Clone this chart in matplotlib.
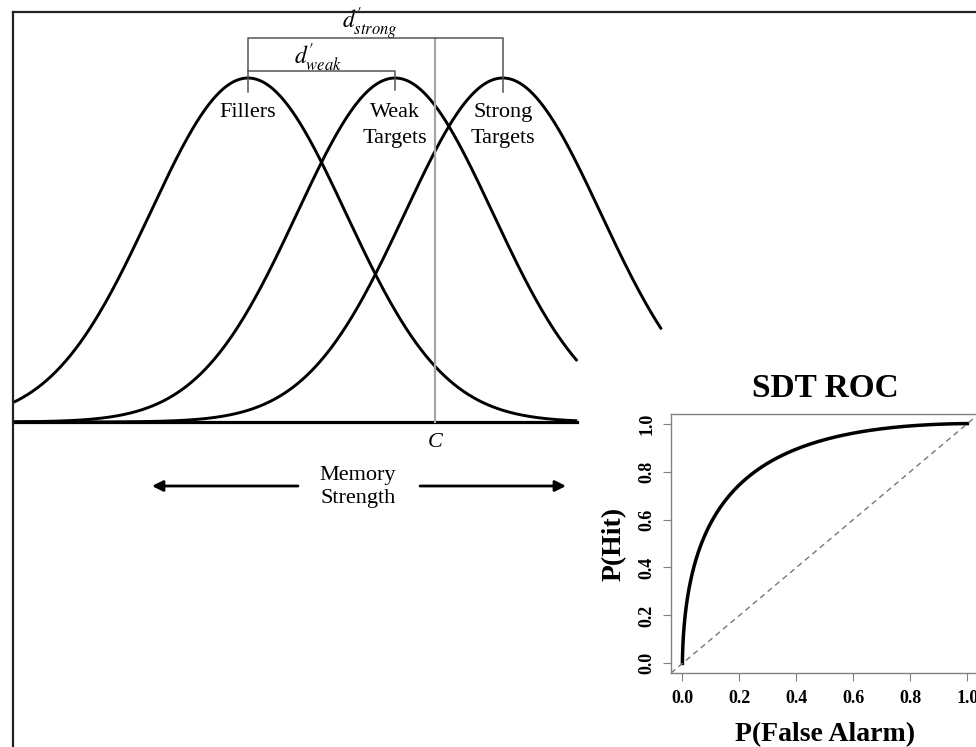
import math
import numpy as np
import matplotlib
matplotlib.use('Agg')
import matplotlib.pyplot as plt
from matplotlib.lines import Line2D

# distributions (in sd units)
dist_names = ['Fillers', 'Weak\nTargets', 'Strong\nTargets']
dist_means = [0.0, 1.5, 2.6]
dist_sd = 1.0
curve_start = -2.39
curve_ends = [3.36, 3.36, 4.22]
criterion = 1.91
# ROC
roc_dprime = 1.5
roc_ticks = [0.0, 0.2, 0.4, 0.6, 0.8, 1.0]

plt.rcParams['font.family'] = ['Liberation Serif', 'DejaVu Serif']
plt.rcParams['mathtext.fontset'] = 'stix'

W, H = 976, 747
fig = plt.figure(figsize=(W / 100, H / 100), dpi=100)

# pixel layout of the left panel
MEAN0_PX = 248
SD_PX = 98
BASE_PX = 422
PEAK_PX = 78
peak = 1 / math.sqrt(2 * math.pi)
yscale = (BASE_PX - PEAK_PX) / peak

def zx(px):
    return (px - MEAN0_PX) / SD_PX

def zy(py):
    return (BASE_PX - py) / yscale

def pdf(x, m):
    return np.exp(-0.5 * ((x - m) / dist_sd) ** 2) / (dist_sd * math.sqrt(2 * math.pi))

ax = fig.add_axes([0, 0, 1, 1])
ax.set_xlim(zx(0), zx(W))
ax.set_ylim(zy(H), zy(0))
ax.axis('off')

for name, m, end in zip(dist_names, dist_means, curve_ends):
    xs = np.linspace(curve_start, end, 600)
    ax.plot(xs, pdf(xs, m), color='black', lw=2.1, solid_capstyle='butt')
    ax.text(m, zy(112), name.split('\n')[0], ha='center', va='center', fontsize=16)
    if '\n' in name:
        ax.text(m, zy(139), name.split('\n')[1], ha='center', va='center', fontsize=16)

# baseline
ax.plot([curve_start, curve_ends[0]], [0, 0], color='black', lw=2.3)

# criterion
ax.plot([criterion, criterion], [0, zy(38)], color='#a6a6a6', lw=1.6)
ax.text(criterion, zy(442), 'C', style='italic', ha='center', va='center', fontsize=16)

# d' brackets
bc = '#555555'
ax.plot([dist_means[0], dist_means[0], dist_means[2], dist_means[2]],
        [zy(92), zy(38), zy(38), zy(92)], color=bc, lw=1.1)
ax.plot([dist_means[0], dist_means[1], dist_means[1]],
        [zy(71), zy(71), zy(90)], color=bc, lw=1.1)
ax.text(zx(370), zy(24), r"$d^{\prime}_{strong}$", ha='center', va='center', fontsize=17)
ax.text(zx(318), zy(58), r"$d^{\prime}_{weak}$", ha='center', va='center', fontsize=17)

# memory strength arrows
ax.text(zx(358), zy(487), 'Memory\nStrength', ha='center', va='center',
        fontsize=16, linespacing=1.25)
ax.annotate('', xy=(zx(152), zy(486)), xytext=(zx(298), zy(486)),
            arrowprops=dict(arrowstyle='-|>', color='black', lw=2, mutation_scale=16,
                            shrinkA=0, shrinkB=0))
ax.annotate('', xy=(zx(566), zy(486)), xytext=(zx(420), zy(486)),
            arrowprops=dict(arrowstyle='-|>', color='black', lw=2, mutation_scale=16,
                            shrinkA=0, shrinkB=0))

# ROC panel
ax2 = fig.add_axes([671 / W, 1 - 673 / H, 307.8 / W, 259 / H])
ax2.set_xlim(-0.04, 1.04)
ax2.set_ylim(-0.04, 1.04)
crit = np.linspace(-6, 8, 800)
phi = np.vectorize(lambda v: 0.5 * (1 + math.erf(v / math.sqrt(2))))
fa = 1 - phi(crit)
hit = 1 - phi(crit - roc_dprime)
ax2.plot(fa, hit, color='black', lw=2.5)
ax2.plot([-0.04, 1.04], [-0.04, 1.04], color='#777777', lw=1, ls=(0, (4, 3)))
for s in ax2.spines.values():
    s.set_color('#808080')
    s.set_linewidth(1.0)
ax2.set_xticks(roc_ticks)
ax2.set_yticks(roc_ticks)
ax2.set_xticklabels(['%.1f' % t for t in roc_ticks], fontweight='bold', fontsize=13)
ax2.set_yticklabels(['%.1f' % t for t in roc_ticks], fontweight='bold', fontsize=13,
                    rotation=90, va='center')
ax2.tick_params(axis='x', length=6, color='#808080', pad=6)
ax2.tick_params(axis='y', length=6, color='#808080', pad=5)
ax2.set_xlabel('P(False Alarm)', fontweight='bold', fontsize=20, labelpad=11)
ax2.set_ylabel('P(Hit)', fontweight='bold', fontsize=20, labelpad=9)
ax2.set_title('SDT ROC', fontweight='bold', fontsize=24, pad=12)

# figure border (left and top only, cropped elsewhere)
fig.add_artist(Line2D([12.5 / W, 12.5 / W], [0, 1 - 11.5 / H], color='#222222', lw=1.6,
                      transform=fig.transFigure))
fig.add_artist(Line2D([12.5 / W, 1], [1 - 11.5 / H, 1 - 11.5 / H], color='#222222', lw=1.6,
                      transform=fig.transFigure))

fig.savefig('out.png', dpi=100)
